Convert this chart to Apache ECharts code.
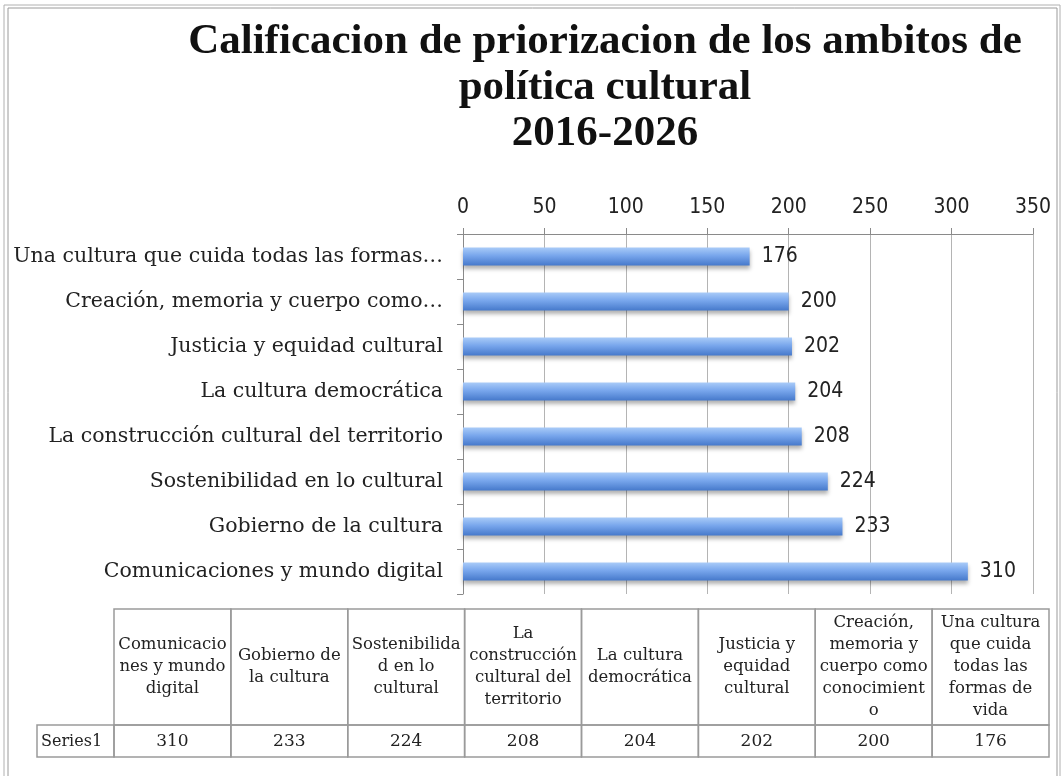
<!DOCTYPE html>
<html>
<head>
<meta charset="utf-8">
<script src="https://cdn.jsdelivr.net/npm/echarts@6/dist/echarts.min.js"></script>
<style>
  * { margin: 0; padding: 0; }
  body { background: #fff; }
  #chart { width: 1064px; height: 776px; }
</style>
</head>
<body>
<div id="chart"></div>
<script>
// categories in table order (bottom bar first on the value axis)
var categories = [
  'Comunicaciones y mundo digital',
  'Gobierno de la cultura',
  'Sostenibilidad en lo cultural',
  'La construcción cultural del territorio',
  'La cultura democrática',
  'Justicia y equidad cultural',
  'Creación, memoria y cuerpo como conocimiento',
  'Una cultura que cuida todas las formas de vida'
];
var values = [310, 233, 224, 208, 204, 202, 200, 176];
// axis labels as shown next to the bars (long ones cut off)
var axisLabels = [
  'Comunicaciones y mundo digital',
  'Gobierno de la cultura',
  'Sostenibilidad en lo cultural',
  'La construcción cultural del territorio',
  'La cultura democrática',
  'Justicia y equidad cultural',
  'Creación, memoria y cuerpo como…',
  'Una cultura que cuida todas las formas…'
];
// header text of the data table, wrapped like the original
var tableHeaders = [
  'Comunicacio\nnes y mundo\ndigital',
  'Gobierno de\nla cultura',
  'Sostenibilida\nd en lo\ncultural',
  'La\nconstrucción\ncultural del\nterritorio',
  'La cultura\ndemocrática',
  'Justicia y\nequidad\ncultural',
  'Creación,\nmemoria y\ncuerpo como\nconocimient\no',
  'Una cultura\nque cuida\ntodas las\nformas de\nvida'
];
var seriesName = 'Series1';

var serif = '"DejaVu Serif", "Liberation Serif", serif';
var titleFont = '"Liberation Serif", "DejaVu Serif", serif';
var sans = '"DejaVu Sans Condensed", "DejaVu Sans", sans-serif';

// data table below the chart, drawn as graphic elements
function buildTable() {
  var left = 114, right = 1049, top = 609, headH = 116, rowH = 32, labelLeft = 37;
  var colW = (right - left) / categories.length;
  var els = [];
  var border = { fill: 'none', stroke: '#9a9a9a', lineWidth: 1.5 };
  for (var i = 0; i < categories.length; i++) {
    var x = left + i * colW;
    els.push({ type: 'rect', shape: { x: x, y: top, width: colW, height: headH }, style: border });
    els.push({ type: 'rect', shape: { x: x, y: top + headH, width: colW, height: rowH }, style: border });
    els.push({ type: 'text', style: { text: tableHeaders[i], x: x + colW / 2, y: top + headH / 2, align: 'center', verticalAlign: 'middle', fontFamily: serif, fontSize: 16.5, lineHeight: 22, fill: '#222' } });
    els.push({ type: 'text', style: { text: String(values[i]), x: x + colW / 2, y: top + headH + rowH / 2 + 1, align: 'center', verticalAlign: 'middle', fontFamily: serif, fontSize: 17, fill: '#222' } });
  }
  els.push({ type: 'rect', shape: { x: labelLeft, y: top + headH, width: left - labelLeft, height: rowH }, style: border });
  els.push({ type: 'text', style: { text: seriesName, x: labelLeft + 4, y: top + headH + rowH / 2 + 1, align: 'left', verticalAlign: 'middle', fontFamily: serif, fontSize: 16, fill: '#222' } });
  return els;
}

var frame = [
  { type: 'rect', shape: { x: 4, y: 5, width: 1056, height: 800 }, style: { fill: 'none', stroke: '#b0b0b0', lineWidth: 1 } },
  { type: 'rect', shape: { x: 8, y: 8, width: 1049, height: 800 }, style: { fill: 'none', stroke: '#9a9a9a', lineWidth: 1 } }
];

var chart = echarts.init(document.getElementById('chart'));
chart.setOption({
  backgroundColor: '#fff',
  animation: false,
  title: {
    text: 'Calificacion de priorizacion de los ambitos de\npolítica cultural\n2016-2026',
    left: 600,
    top: 14,
    textAlign: 'center',
    textStyle: { fontFamily: titleFont, fontWeight: 'bold', fontSize: 43, lineHeight: 46, color: '#111' }
  },
  grid: { left: 463, right: 31, top: 234, bottom: 182 },
  xAxis: {
    type: 'value',
    position: 'top',
    min: 0,
    max: 350,
    interval: 50,
    axisLine: { show: true, lineStyle: { color: '#8a8a8a' } },
    axisTick: { show: true, length: 6, lineStyle: { color: '#8a8a8a' } },
    axisLabel: { margin: 16, fontFamily: sans, fontSize: 21, color: '#222' },
    splitLine: { show: true, lineStyle: { color: '#b4b4b4' } }
  },
  yAxis: {
    type: 'category',
    data: categories,
    axisLine: { show: true, lineStyle: { color: '#8a8a8a' } },
    axisTick: { show: true, length: 6, lineStyle: { color: '#8a8a8a' } },
    axisLabel: {
      margin: 20, fontFamily: serif, fontSize: 20.5, color: '#222',
      formatter: function (v, i) { return axisLabels[i]; }
    }
  },
  series: [{
    name: seriesName,
    type: 'bar',
    data: values,
    barWidth: 18,
    itemStyle: {
      color: new echarts.graphic.LinearGradient(0, 0, 0, 1, [
        { offset: 0, color: '#a9cbf8' },
        { offset: 0.45, color: '#78a6ec' },
        { offset: 1, color: '#4679cb' }
      ]),
      shadowColor: 'rgba(0,0,0,0.3)',
      shadowBlur: 4,
      shadowOffsetY: 3
    },
    label: {
      show: true, position: 'right', distance: 12,
      fontFamily: sans, fontSize: 21, color: '#222'
    }
  }],
  graphic: frame.concat(buildTable())
});
</script>
</body>
</html>
